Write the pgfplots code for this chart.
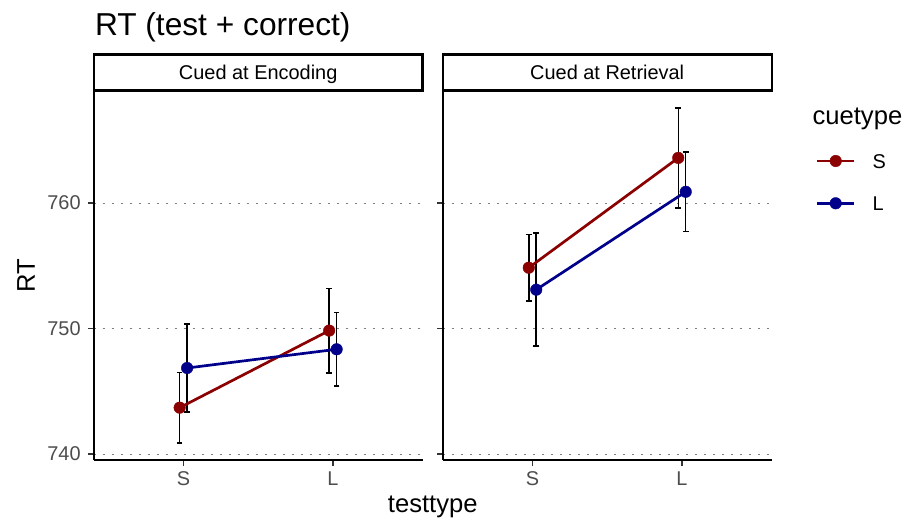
\documentclass[border=0pt]{standalone}
\usepackage{pgfplots}
\pgfplotsset{compat=1.18}
\usepackage{fontspec}
\setmainfont{Liberation Sans}
\definecolor{cS}{HTML}{8B0000}
\definecolor{cL}{HTML}{00008B}
\definecolor{tickgrey}{HTML}{4D4D4D}
\definecolor{gridgrey}{HTML}{7F7F7F}
\pgfplotsset{
  panel/.style={
    scale only axis, width=164.45bp, height=184.5bp,
    xmin=0.4, xmax=2.6, ymin=739.53, ymax=768.93,
    axis x line*=bottom, axis y line*=left,
    axis line style={line width=1.1bp, black},
    xtick={1,2}, xticklabels={S,L},
    ytick={740,750,760},
    tick align=outside, major tick length=2.9bp,
    tick style={line width=0.9bp, color=black!80},
    ymajorgrids, major grid style={gridgrey, line width=0.55bp, dash pattern=on 0.9bp off 3.6bp},
    /pgf/number format/assume math mode=true,
    ticklabel style={font=\fontsize{10}{12}\selectfont, text=tickgrey},
    xticklabel style={anchor=north, inner sep=0pt, text height=7.16bp, text depth=0pt},
    yticklabel style={anchor=east, inner sep=0pt},
    xticklabel shift=2.5bp, yticklabel shift=3.45bp,
    clip=false,
  },
  ebar/.style={only marks, mark=none, forget plot,
    error bars/.cd, y dir=both, y explicit,
    error bar style={draw=black, solid, line width=0.75bp},
    error mark options={draw=black, line width=0.75bp, mark size=1.4bp, rotate=90}},
  sline/.style={cS, line width=1.35bp, mark=*, mark size=2.9bp, mark options={solid, fill=cS, draw=cS, line width=0.2bp}},
  lline/.style={cL, line width=1.35bp, mark=*, mark size=2.9bp, mark options={solid, fill=cL, draw=cL, line width=0.2bp}},
}
\begin{document}
\begin{tikzpicture}
\useasboundingbox (0,0) rectangle (453bp,259.5bp);
% Panel 1: Cued at Encoding
\begin{axis}[panel, at={(46.85bp,29.5bp)}, anchor=south west]
\addplot[ebar] coordinates {(0.975,743.70) +- (0,2.82) (1.975,749.84) +- (0,3.37)};
\addplot[ebar] coordinates {(1.025,746.86) +- (0,3.52) (2.025,748.35) +- (0,2.92)};
\addplot[sline] coordinates {(0.975,743.70) (1.975,749.84)};
\addplot[lline] coordinates {(1.025,746.86) (2.025,748.35)};
\end{axis}
% Panel 2: Cued at Retrieval
\begin{axis}[panel, at={(221.4bp,29.5bp)}, anchor=south west, yticklabels={},
  legend style={draw=none, fill=none, at={(1.13469,0.82970)}, anchor=north west,
    inner sep=0pt, outer sep=0pt, row sep=13.99bp, column sep=8.65bp,
    nodes={inner sep=0pt, font=\fontsize{10}{12}\selectfont, text height=7.16bp, text depth=0pt}},
  legend cell align=left,
  legend image code/.code={\draw[mark repeat=2, mark phase=2, #1] plot coordinates {(0bp,0bp) (9.175bp,0bp) (18.35bp,0bp)};}]
\addplot[ebar] coordinates {(0.975,754.85) +- (0,2.65) (1.975,763.60) +- (0,3.98)};
\addplot[ebar] coordinates {(1.025,753.10) +- (0,4.50) (2.025,760.90) +- (0,3.15)};
\addplot[sline] coordinates {(0.975,754.85) (1.975,763.60)};
\addlegendentry{S}
\addplot[lline] coordinates {(1.025,753.10) (2.025,760.90)};
\addlegendentry{L}
\end{axis}
% strips
\draw[line width=1.2bp, fill=white] (46.85bp,214.15bp) rectangle (211.3bp,232.15bp);
\draw[line width=1.2bp, fill=white] (221.4bp,214.15bp) rectangle (385.85bp,232.15bp);
\node[anchor=base, inner sep=0pt, font=\fontsize{10}{12}\selectfont] at (129.1bp,219.57bp) {Cued at Encoding};
\node[anchor=base, inner sep=0pt, font=\fontsize{10}{12}\selectfont] at (303.6bp,219.57bp) {Cued at Retrieval};
% titles
\node[anchor=base west, inner sep=0pt, font=\fontsize{15.9}{18}\selectfont] at (47.3bp,241.5bp) {RT (test + correct)};
\node[rotate=90, inner sep=0pt, font=\fontsize{12.85}{15}\selectfont] at (13bp,121.75bp) {RT};
\node[anchor=base, inner sep=0pt, font=\fontsize{12.85}{15}\selectfont] at (216.4bp,3.5bp) {testtype};
\node[anchor=base west, inner sep=0pt, font=\fontsize{12.85}{15}\selectfont] at (406.1bp,197bp) {cuetype};
\end{tikzpicture}
\end{document}
